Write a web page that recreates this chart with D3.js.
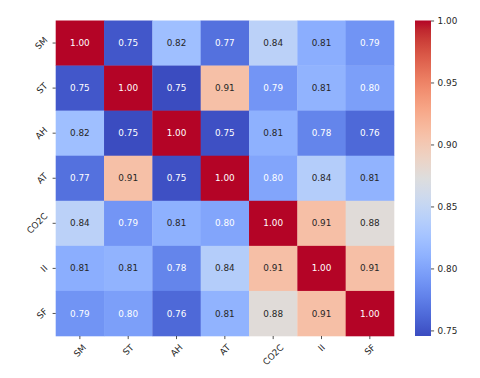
<!DOCTYPE html>
<html>
<head>
<meta charset="utf-8">
<script src="https://cdn.jsdelivr.net/npm/d3@7"></script>
<style>
  body { margin: 0; background: #fff; }
  svg { display: block; font-family: "DejaVu Sans", sans-serif; }
  .tick line { stroke: #262626; stroke-width: 0.8; }
  .tick text { fill: #262626; }
</style>
</head>
<body>
<div id="chart"></div>
<script>
// data
var labels = ["SM", "ST", "AH", "AT", "CO2C", "II", "SF"];
var row_SM   = [1.000, 0.752, 0.822, 0.767, 0.843, 0.808, 0.789];
var row_ST   = [0.752, 1.000, 0.7455, 0.908, 0.790, 0.812, 0.797];
var row_AH   = [0.822, 0.7455, 1.000, 0.748, 0.810, 0.779, 0.762];
var row_AT   = [0.767, 0.908, 0.748, 1.000, 0.801, 0.838, 0.812];
var row_CO2C = [0.843, 0.790, 0.810, 0.801, 1.000, 0.909, 0.876];
var row_II   = [0.808, 0.812, 0.779, 0.838, 0.909, 1.000, 0.909];
var row_SF   = [0.789, 0.797, 0.762, 0.812, 0.876, 0.909, 1.000];
var matrix = [row_SM, row_ST, row_AH, row_AT, row_CO2C, row_II, row_SF];
var cbarTicks = [0.75, 0.80, 0.85, 0.90, 0.95, 1.00];

// coolwarm (Moreland) control points
var coolwarm = [
  [59,76,192],[68,90,204],[77,104,215],[87,117,225],[98,130,234],[108,142,241],
  [119,154,247],[130,165,251],[141,176,254],[152,185,255],[163,194,255],[174,201,253],
  [184,208,249],[194,213,244],[204,217,238],[213,219,230],[221,221,221],[229,216,209],
  [236,211,197],[241,204,185],[245,196,173],[247,187,160],[247,177,148],[247,166,135],
  [244,154,123],[241,141,111],[236,127,99],[229,112,88],[222,96,77],[213,80,66],
  [203,62,56],[192,40,47],[180,4,38]
].map(function (c) { return d3.rgb(c[0], c[1], c[2]).formatHex(); });

var width = 480, height = 378;
var fs = 8.85;
var plotLeft = 55.7, plotRight = 394, plotTop = 20.5, plotBottom = 336;
var tickLen = 3.1, tickPad = 3.1;

var vmin = d3.min(matrix, function (r) { return d3.min(r); });
var vmax = d3.max(matrix, function (r) { return d3.max(r); });

var color = d3.scaleLinear()
    .domain(coolwarm.map(function (c, i) { return vmin + (vmax - vmin) * i / (coolwarm.length - 1); }))
    .range(coolwarm)
    .interpolate(d3.interpolateRgb);

var x = d3.scaleBand().domain(labels).range([plotLeft, plotRight]).padding(0);
var y = d3.scaleBand().domain(labels).range([plotTop, plotBottom]).padding(0);

var svg = d3.select("#chart").append("svg")
    .attr("width", width)
    .attr("height", height);

var cells = [];
matrix.forEach(function (row, i) {
    row.forEach(function (v, j) {
        cells.push({ r: labels[i], c: labels[j], v: v });
    });
});

// relative luminance like seaborn, to pick text colour
function luminance(col) {
    var c = d3.rgb(col);
    var ch = [c.r, c.g, c.b].map(function (u) {
        u = u / 255;
        return u <= 0.03928 ? u / 12.92 : Math.pow((u + 0.055) / 1.055, 2.4);
    });
    return 0.2126 * ch[0] + 0.7152 * ch[1] + 0.0722 * ch[2];
}

svg.append("g").selectAll("rect")
    .data(cells)
    .enter().append("rect")
    .attr("x", function (d) { return x(d.c); })
    .attr("y", function (d) { return y(d.r); })
    .attr("width", x.bandwidth() + 0.3)
    .attr("height", y.bandwidth() + 0.3)
    .attr("fill", function (d) { return color(d.v); });

svg.append("g").selectAll("text")
    .data(cells)
    .enter().append("text")
    .attr("x", function (d) { return x(d.c) + x.bandwidth() / 2; })
    .attr("y", function (d) { return y(d.r) + y.bandwidth() / 2; })
    .attr("dy", "0.35em")
    .attr("text-anchor", "middle")
    .style("font-size", fs + "px")
    .attr("fill", function (d) { return luminance(color(d.v)) < 0.408 ? "#ffffff" : "#262626"; })
    .text(function (d) { return d3.format(".2f")(d.v); });

// axes
var gx = svg.append("g")
    .attr("transform", "translate(0," + plotBottom + ")")
    .call(d3.axisBottom(x).tickSize(tickLen).tickPadding(tickPad));
var gy = svg.append("g")
    .attr("transform", "translate(" + plotLeft + ",0)")
    .call(d3.axisLeft(y).tickSize(tickLen).tickPadding(tickPad));
gx.select(".domain").remove();
gy.select(".domain").remove();
gx.attr("font-family", null);
gy.attr("font-family", null);

var hgt = 1.17 * fs;
gx.selectAll(".tick text")
    .style("font-size", fs + "px")
    .attr("text-anchor", "middle")
    .attr("dy", "0.35em")
    .attr("y", 0)
    .each(function () {
        var L = this.getComputedTextLength();
        var H = (L + hgt) * Math.SQRT1_2;
        var cy = tickLen + tickPad + H / 2;
        d3.select(this).attr("transform", "translate(0," + cy + ") rotate(-45)");
    });
gy.selectAll(".tick text")
    .style("font-size", fs + "px")
    .attr("text-anchor", "middle")
    .attr("dy", "0.35em")
    .attr("x", 0)
    .each(function () {
        var L = this.getComputedTextLength();
        var W = (L + hgt) * Math.SQRT1_2;
        var cx = -(tickLen + tickPad) - W / 2;
        d3.select(this).attr("transform", "translate(" + cx + ",0) rotate(-45)");
    });

// colorbar
var cbX = 415, cbW = 16;
var defs = svg.append("defs");
var grad = defs.append("linearGradient")
    .attr("id", "cbar")
    .attr("x1", 0).attr("y1", 1).attr("x2", 0).attr("y2", 0);
grad.selectAll("stop")
    .data(coolwarm)
    .enter().append("stop")
    .attr("offset", function (d, i) { return i / (coolwarm.length - 1); })
    .attr("stop-color", function (d) { return d; });

var cb = d3.scaleLinear().domain([vmin, vmax]).range([plotBottom, plotTop]);
svg.append("rect")
    .attr("x", cbX)
    .attr("y", cb(vmax))
    .attr("width", cbW)
    .attr("height", cb(vmin) - cb(vmax))
    .attr("fill", "url(#cbar)");

var gc = svg.append("g")
    .attr("transform", "translate(" + (cbX + cbW) + ",0)")
    .call(d3.axisRight(cb).tickValues(cbarTicks).tickFormat(d3.format(".2f")).tickSize(tickLen).tickPadding(3.5));
gc.select(".domain").remove();
gc.attr("font-family", null);
gc.selectAll(".tick text").style("font-size", fs + "px");
</script>
</body>
</html>
